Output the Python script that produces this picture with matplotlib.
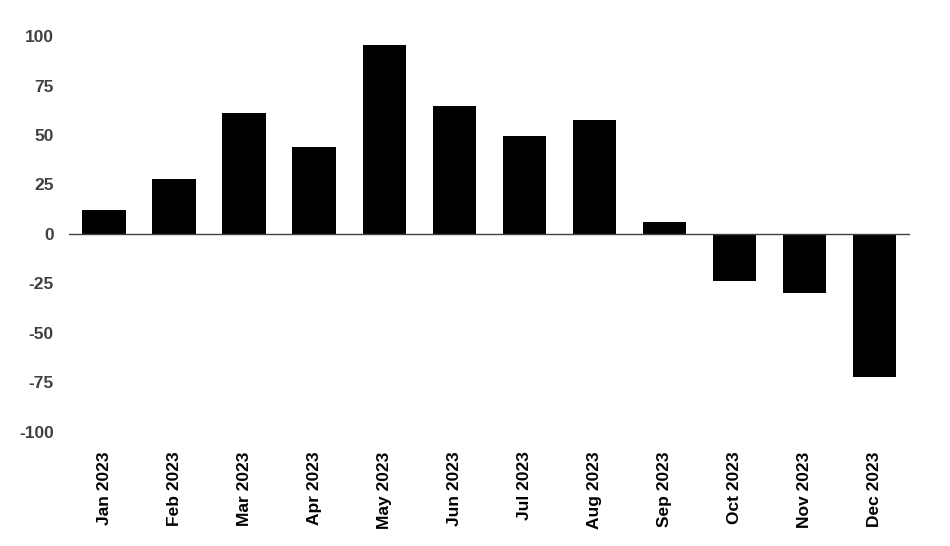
import matplotlib
matplotlib.use("Agg")
import matplotlib.pyplot as plt

plt.rcParams['font.family'] = ['Liberation Sans', 'DejaVu Sans']

# Data
months = ["Jan 2023", "Feb 2023", "Mar 2023", "Apr 2023", "May 2023", "Jun 2023",
          "Jul 2023", "Aug 2023", "Sep 2023", "Oct 2023", "Nov 2023", "Dec 2023"]
values = [12, 28, 61, 44, 95.5, 64.5, 49.5, 57.5, 6, -24, -30, -72.5]
yticks = [-100, -75, -50, -25, 0, 25, 50, 75, 100]

fig = plt.figure(figsize=(9.5, 5.46), dpi=100)
ax = fig.add_axes([0.0726, 0.209, 0.885, 0.725])

x = range(len(months))
ax.bar(x, values, width=0.62, color="black", zorder=2)
ax.axhline(0, color="#404040", linewidth=1.0, zorder=3)

ax.set_xlim(-0.5, len(months) - 0.5)
ax.set_ylim(-100, 100)
ax.set_yticks(yticks)
ax.set_yticklabels([str(t) for t in yticks], fontsize=12.5, fontweight="bold", color="#404040")
ax.set_xticks(list(x))
ax.set_xticklabels(months, rotation=90, fontsize=12.5, fontweight="bold", color="black")
ax.tick_params(axis="y", length=0, pad=11)
ax.tick_params(axis="x", length=0, pad=14)

for s in ax.spines.values():
    s.set_visible(False)

fig.savefig("out.png", dpi=100, facecolor="white")
